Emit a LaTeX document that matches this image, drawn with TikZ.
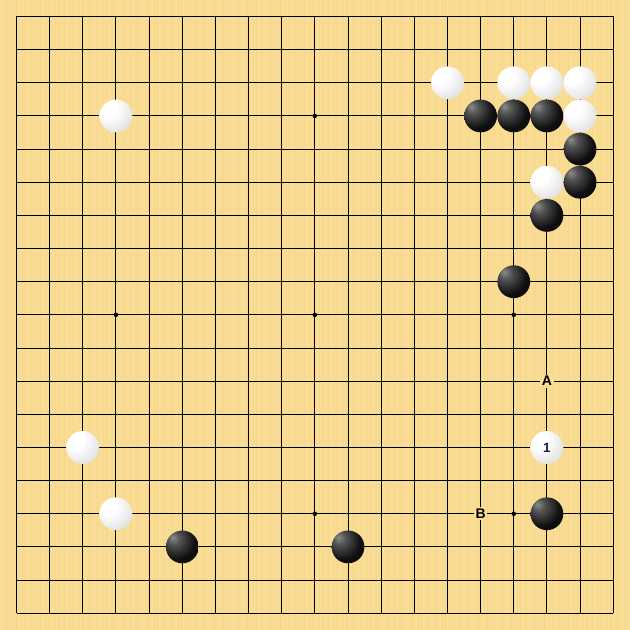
\documentclass[tikz,border=0pt]{standalone}
\usepackage{fontspec}
\newfontfamily\goboldfont{Liberation Sans}

\definecolor{boardyellow}{RGB}{250,221,148}
\definecolor{graincolor}{RGB}{232,196,110}
\definecolor{numbercolor}{RGB}{20,30,70}

\pgfdeclareradialshading{whiteshade}{\pgfpoint{-15bp}{15bp}}{color(0bp)=(white); color(14bp)=(white); color(36bp)=(black!12); color(55bp)=(black!35); color(72bp)=(black!55)}
\pgfdeclareradialshading{blackshade}{\pgfpoint{-15bp}{15bp}}{color(0bp)=(black!45); color(10bp)=(black!68); color(28bp)=(black!94); color(56bp)=(black); color(72bp)=(black!65)}

\tikzset{every picture/.style={line width=0.75pt}}
\tikzset{
  stone/.style={circle, inner sep=0pt, minimum size=24.6pt},
  whitestone/.style={stone, shading=whiteshade},
  blackstone/.style={stone, shading=blackshade},
  marklabel/.style={fill=boardyellow, inner sep=1.2pt, font=\goboldfont\bfseries\fontsize{10.5}{12}\selectfont},
  movenumber/.style={inner sep=0pt, text=numbercolor, font=\goboldfont\bfseries\fontsize{10}{12}\selectfont}
}

\begin{document}
\begin{tikzpicture}[x=0.75pt,y=0.75pt,yscale=-1,xscale=1]
\useasboundingbox (0,0) rectangle (630,630);

%Board
\fill [boardyellow] (0,0) rectangle (630,630);
\foreach \i in {0,...,209} {
  \pgfmathsetmacro{\grain}{mod(\i*37,11)/30}
  \draw [graincolor, line width=0.6pt, draw opacity=\grain] (3*\i+1,0) -- (3*\i+1,630);
}

\begin{scope}[shift={(16.5,16.5)}, x=24.8625pt, y=24.8625pt]
%Grid lines
\foreach \k in {0,...,18} {
  \draw (\k,0) -- (\k,18);
  \draw (0,\k) -- (18,\k);
}
%Star points
\foreach \c in {3,9,15} {
  \foreach \r in {3,9,15} {
    \fill (\c,\r) circle (1.7pt);
  }
}

%White stones
\foreach \c/\r in {13/2,15/2,16/2,17/2,17/3,16/5,3/3,2/13,3/15,16/13} {
  \node [whitestone] (w-\c-\r) at (\c,\r) {};
}
%Black stones
\foreach \c/\r in {14/3,15/3,16/3,17/4,17/5,16/6,15/8,5/16,10/16,16/15} {
  \node [blackstone] (b-\c-\r) at (\c,\r) {};
}

% Text Node
\node [movenumber] (move1) at (w-16-13) {1};
% Text Node
\node [marklabel] (markA) at (16,11) {A};
% Text Node
\node [marklabel] (markB) at (14,15) {B};
\end{scope}

\end{tikzpicture}
\end{document}
